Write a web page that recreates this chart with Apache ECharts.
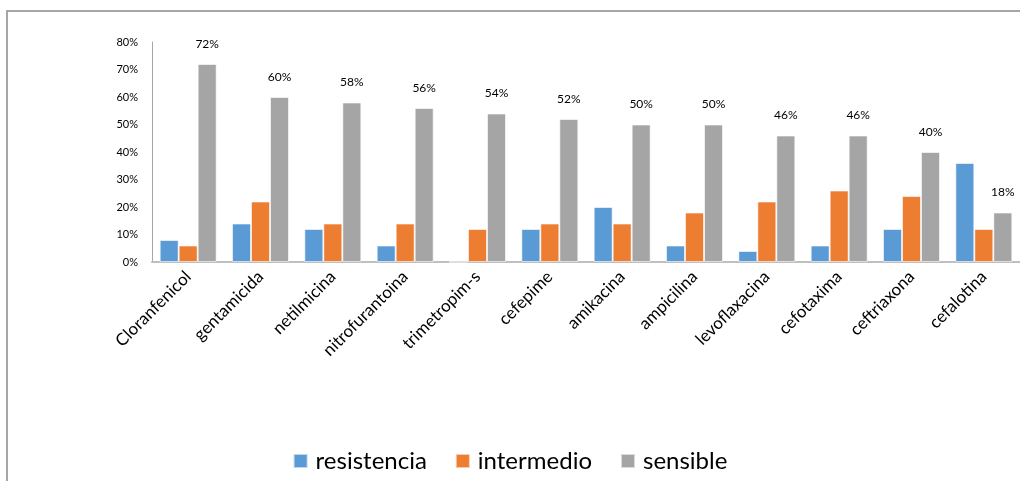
<!DOCTYPE html>
<html>
<head>
<meta charset="utf-8">
<script src="https://cdn.jsdelivr.net/npm/echarts@6/dist/echarts.min.js"></script>
<style>
html,body{margin:0;padding:0;background:#fff;}
#c{width:1020px;height:481px;}
</style>
</head>
<body>
<div id="c"></div>
<script>
const categories = ['Cloranfenicol','gentamicida','netilmicina','nitrofurantoina','trimetropim-s','cefepime','amikacina','ampicilina','levoflaxacina','cefotaxima','ceftriaxona','cefalotina'];
const resistencia = [8,14,12,6,0,12,20,6,4,6,12,36];
const intermedio = [6,22,14,14,12,14,14,18,22,26,24,12];
const sensible = [72,60,58,56,54,52,50,50,46,46,40,18];
const yTicks = [0,10,20,30,40,50,60,70,80];

const FONT = 'Lato, "Open Sans", sans-serif';
const chart = echarts.init(document.getElementById('c'));
const barBorder = {borderColor:'rgba(255,255,255,0.6)', borderWidth:1};
chart.setOption({
  animation:false,
  textStyle:{fontFamily:FONT},
  graphic:[
    {type:'polyline', shape:{points:[[7,481],[7,11],[1020,11]]}, style:{stroke:'#a6a6a6', lineWidth:2, fill:null}, silent:true}
  ],
  grid:{left:152, right:-2, top:42, bottom:219},
  legend:{
    bottom:3, left:'center',
    itemWidth:14, itemHeight:14, itemGap:28,
    icon:'rect',
    textStyle:{fontSize:24, color:'#000', fontFamily:FONT, padding:[0,0,0,3]},
    data:['resistencia','intermedio','sensible']
  },
  xAxis:{
    type:'category', data:categories,
    axisLine:{lineStyle:{color:'#bfbfbf', width:2}},
    axisTick:{show:false},
    axisLabel:{rotate:45, fontSize:17, color:'#000', margin:12, interval:0, fontFamily:FONT}
  },
  yAxis:{
    type:'value', min:yTicks[0], max:yTicks[yTicks.length-1], interval:10,
    axisLine:{show:true, lineStyle:{color:'#a6a6a6', width:1}},
    axisTick:{show:false},
    splitLine:{show:false},
    axisLabel:{formatter:'{value}%', fontSize:11, color:'#000', margin:14, fontFamily:FONT}
  },
  series:[
    {name:'resistencia', type:'bar', data:resistencia, barWidth:19, barGap:'0%', itemStyle:Object.assign({color:'#5b9bd5'}, barBorder)},
    {name:'intermedio', type:'bar', data:intermedio, barWidth:19, barGap:'0%', itemStyle:Object.assign({color:'#ed7d31'}, barBorder)},
    {name:'sensible', type:'bar', data:sensible, barWidth:19, barGap:'0%', itemStyle:Object.assign({color:'#a5a5a5'}, barBorder),
      label:{show:true, position:'top', distance:14, formatter:'{c}%', fontSize:12, color:'#000', fontFamily:FONT}}
  ]
});
</script>
</body>
</html>
